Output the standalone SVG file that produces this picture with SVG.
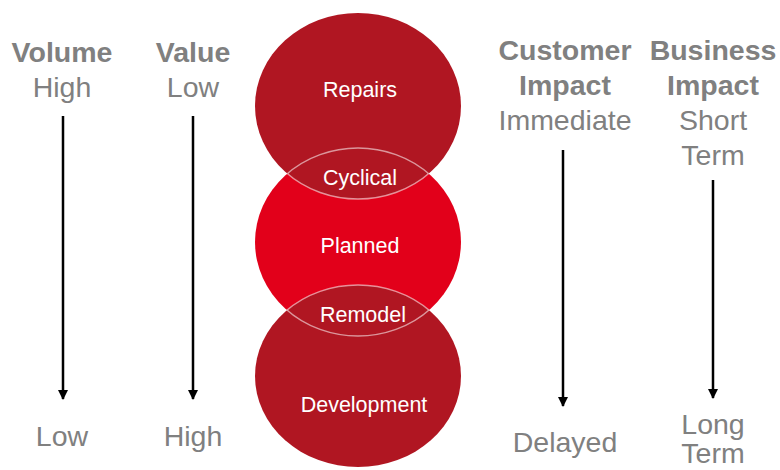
<svg xmlns="http://www.w3.org/2000/svg" width="780" height="470" viewBox="0 0 780 470">
  <style>
    .head { font-family: "Liberation Sans", Arial, sans-serif; font-size: 28.5px; font-weight: bold; fill: #808080; text-anchor: middle; }
    .lbl { font-family: "Liberation Sans", Arial, sans-serif; font-size: 28.5px; fill: #808080; text-anchor: middle; }
    .in { font-family: "Liberation Sans", Arial, sans-serif; font-size: 21.5px; fill: #ffffff; text-anchor: middle; }
    .dark { fill: #B01622; }
    .bright { fill: #E2001A; }
    .edge { fill: none; stroke: #ffffff; stroke-opacity: 0.55; stroke-width: 1.5; }
    .axis { stroke: #000000; stroke-width: 2.5; fill: none; marker-end: url(#head); }
  </style>
  <defs>
    <marker id="head" viewBox="0 0 10 10" refX="9" refY="5" markerWidth="4" markerHeight="4" orient="auto" markerUnits="strokeWidth">
      <path d="M0,0 L10,5 L0,10 z" fill="#000000"/>
    </marker>
    <clipPath id="clipTop"><ellipse cx="358" cy="106" rx="103" ry="93"/></clipPath>
    <clipPath id="clipMid"><ellipse cx="358" cy="242" rx="103" ry="94"/></clipPath>
    <clipPath id="clipBot"><ellipse cx="358" cy="376" rx="103" ry="91"/></clipPath>
  </defs>

  <rect width="780" height="470" fill="#ffffff"/>

  <!-- stacked circles -->
  <g id="planned">
    <ellipse class="bright" cx="358" cy="242" rx="103" ry="94"/>
  </g>
  <g id="repairs">
    <ellipse class="dark" cx="358" cy="106" rx="103" ry="93"/>
    <text class="in" x="360" y="97">Repairs</text>
  </g>
  <g id="development">
    <ellipse class="dark" cx="358" cy="376" rx="103" ry="91"/>
    <text class="in" x="364" y="412">Development</text>
  </g>
  <g id="cyclical">
    <ellipse class="edge" cx="358" cy="242" rx="103" ry="94" clip-path="url(#clipTop)"/>
    <ellipse class="edge" cx="358" cy="106" rx="103" ry="93" clip-path="url(#clipMid)"/>
    <text class="in" x="360" y="185">Cyclical</text>
  </g>
  <g id="remodel">
    <ellipse class="edge" cx="358" cy="242" rx="103" ry="94" clip-path="url(#clipBot)"/>
    <ellipse class="edge" cx="358" cy="376" rx="103" ry="91" clip-path="url(#clipMid)"/>
    <text class="in" x="363" y="322">Remodel</text>
  </g>
  <g id="planned-label">
    <text class="in" x="360" y="253">Planned</text>
  </g>

  <!-- scale headings -->
  <g id="volume">
    <text class="head" x="62" y="62">Volume</text>
    <text class="lbl" x="62" y="97">High</text>
    <text class="lbl" x="62" y="446">Low</text>
  </g>
  <g id="value">
    <text class="head" x="193" y="62">Value</text>
    <text class="lbl" x="193" y="97">Low</text>
    <text class="lbl" x="193" y="446">High</text>
  </g>
  <g id="customer">
    <text class="head" x="565" y="60">Customer</text>
    <text class="head" x="565" y="95">Impact</text>
    <text class="lbl" x="565" y="130">Immediate</text>
    <text class="lbl" x="565" y="452">Delayed</text>
  </g>
  <g id="business">
    <text class="head" x="713" y="60">Business</text>
    <text class="head" x="713" y="95">Impact</text>
    <text class="lbl" x="713" y="130">Short</text>
    <text class="lbl" x="713" y="165">Term</text>
    <text class="lbl" x="713" y="434">Long</text>
    <text class="lbl" x="713" y="463">Term</text>
  </g>

  <!-- direction arrows -->
  <g id="connectors">
    <line class="axis" x1="63" y1="116" x2="63" y2="399"/>
    <line class="axis" x1="193" y1="116" x2="193" y2="399"/>
    <line class="axis" x1="563" y1="150" x2="563" y2="406"/>
    <line class="axis" x1="713" y1="180" x2="713" y2="398"/>
  </g>
</svg>
